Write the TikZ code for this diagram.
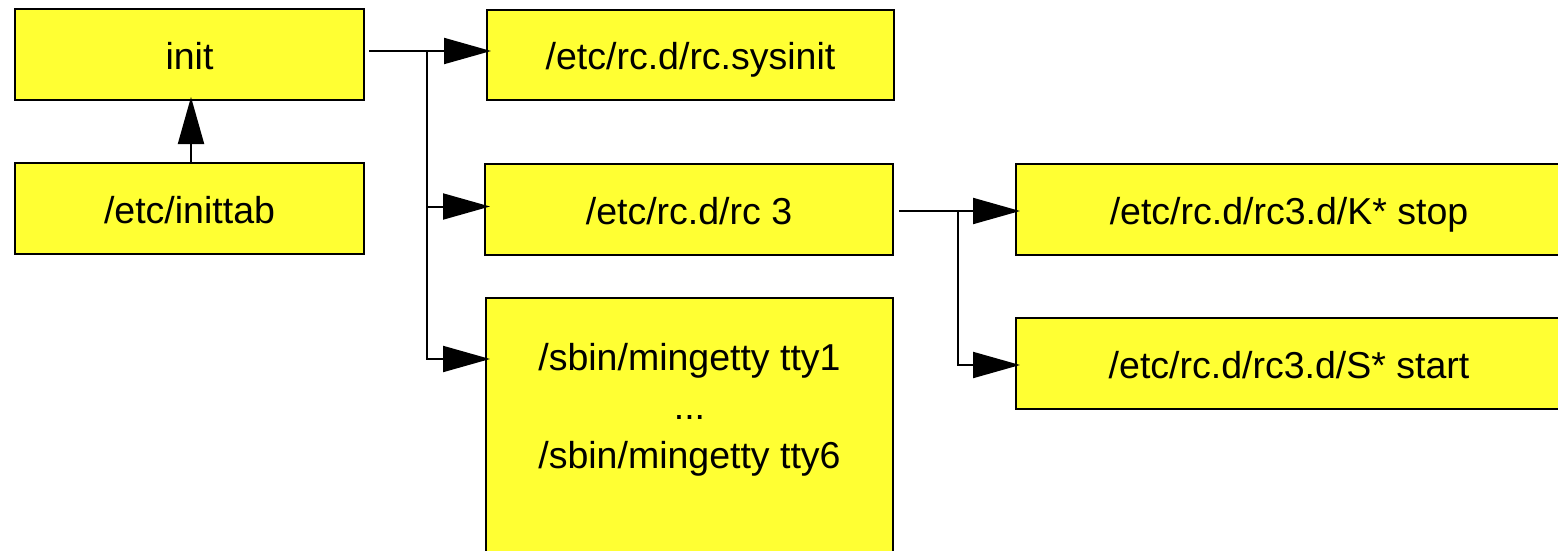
\documentclass[tikz,border=0pt]{standalone}
\usepackage{fontspec}
\setmainfont{Liberation Sans}
\usetikzlibrary{arrows.meta}
\definecolor{yy}{RGB}{255, 255, 51}

\begin{document}
\begin{tikzpicture}[box/.style={rectangle, fill=yy, draw=black, line width=2pt, inner sep=0pt, text height=30pt, text depth=0pt, font=\fontsize{37.5pt}{49pt}\selectfont}, arr/.style={line width=2pt, -{Triangle[length=47pt, width=26pt]}}]
\useasboundingbox (0pt,0pt) rectangle (1558pt,-551pt);
\clip (0pt,0pt) rectangle (1558pt,-551pt);
\node (init) [box, minimum width=349pt, minimum height=91pt] at (189.5pt, -54.5pt) {init};
\node (inittab) [box, minimum width=349pt, minimum height=91pt] at (189.5pt, -208.5pt) {/etc/inittab};
\node (sysinit) [box, minimum width=407pt, minimum height=90pt] at (690.5pt, -55pt) {/etc/rc.d/rc.sysinit};
\node (rc3) [box, minimum width=408pt, minimum height=91pt] at (689pt, -209.5pt) {/etc/rc.d/rc 3};
\node (getty) [box, minimum width=407pt, minimum height=272pt] at (689.5pt, -434pt) {};
\node (gettytxt) [align=center, inner sep=0pt, font=\fontsize{37.5pt}{49pt}\selectfont] at (689.5pt, -410pt) {/sbin/mingetty tty1\\...\\/sbin/mingetty tty6};
\node (kstop) [box, minimum width=546pt, minimum height=91pt] at (1289pt, -209.5pt) {/etc/rc.d/rc3.d/K* stop};
\node (sstart) [box, minimum width=546pt, minimum height=91pt] at (1289pt, -363.5pt) {/etc/rc.d/rc3.d/S* start};
\draw [arr] ([xshift=1.5pt]inittab.north) to ([xshift=1.5pt, yshift=4pt]init.south);
\coordinate (j1) at (427pt, -51pt);
\draw [arr] ([xshift=4pt]init.east |- j1) to ([xshift=5pt]sysinit.west |- j1);
\draw [arr] (j1) |- ([xshift=6pt, yshift=3pt]rc3.west);
\draw [arr] (j1) |- ([xshift=5pt, yshift=-62pt]getty.north west);
\coordinate (j2) at (958pt, -211pt);
\draw [arr] ([xshift=5pt]rc3.east |- j2) to ([xshift=5pt]kstop.west |- j2);
\draw [arr] (j2) |- ([xshift=5pt, yshift=-1.5pt]sstart.west);
\end{tikzpicture}
\end{document}
